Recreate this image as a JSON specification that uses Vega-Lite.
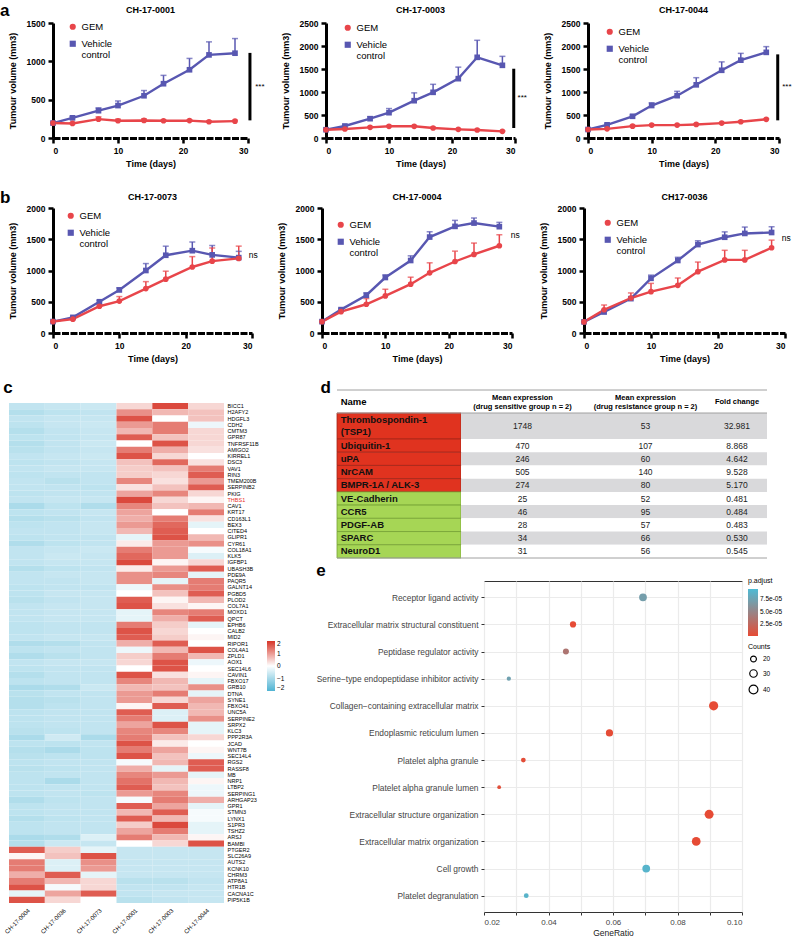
{
"$schema":"https://vega.github.io/schema/vega-lite/v6.json",
"padding":{"left":0,"top":2,"right":0,"bottom":0},
"config":{
 "font":"Liberation Sans",
 "view":{"stroke":null},
 "title":{"fontSize":9,"fontWeight":"bold","color":"black"},
 "axis":{"domainColor":"black","domainWidth":3,"tickColor":"black","tickWidth":2.5,"tickSize":5,"labelFontSize":8.5,"labelFontWeight":"bold","labelColor":"black","titleFontSize":9,"titleFontWeight":"bold","titleColor":"black","grid":false,"labelPadding":3,"titlePadding":9},
 "legend":{"labelFont":"Liberation Sans","titleFont":"Liberation Sans"}
},
"datasets":{
"growth":[
{"chart":"CH-17-0001","group":"Vehicle control","day":0,"vol":195,"hi":195},
{"chart":"CH-17-0001","group":"Vehicle control","day":3,"vol":263,"hi":278},
{"chart":"CH-17-0001","group":"Vehicle control","day":7,"vol":356,"hi":394},
{"chart":"CH-17-0001","group":"Vehicle control","day":10,"vol":423,"hi":483},
{"chart":"CH-17-0001","group":"Vehicle control","day":14,"vol":551,"hi":619},
{"chart":"CH-17-0001","group":"Vehicle control","day":17,"vol":708,"hi":817},
{"chart":"CH-17-0001","group":"Vehicle control","day":21,"vol":890,"hi":1038},
{"chart":"CH-17-0001","group":"Vehicle control","day":24,"vol":1084,"hi":1254},
{"chart":"CH-17-0001","group":"Vehicle control","day":28,"vol":1106,"hi":1297},
{"chart":"CH-17-0001","group":"GEM","day":0,"vol":195,"hi":195},
{"chart":"CH-17-0001","group":"GEM","day":3,"vol":190,"hi":200},
{"chart":"CH-17-0001","group":"GEM","day":7,"vol":246,"hi":276},
{"chart":"CH-17-0001","group":"GEM","day":10,"vol":225,"hi":245},
{"chart":"CH-17-0001","group":"GEM","day":14,"vol":229,"hi":249},
{"chart":"CH-17-0001","group":"GEM","day":17,"vol":225,"hi":235},
{"chart":"CH-17-0001","group":"GEM","day":21,"vol":227,"hi":237},
{"chart":"CH-17-0001","group":"GEM","day":24,"vol":212,"hi":222},
{"chart":"CH-17-0001","group":"GEM","day":28,"vol":220,"hi":230},
{"chart":"CH-17-0003","group":"Vehicle control","day":0,"vol":180,"hi":180},
{"chart":"CH-17-0003","group":"Vehicle control","day":3,"vol":261,"hi":276},
{"chart":"CH-17-0003","group":"Vehicle control","day":7,"vol":420,"hi":460},
{"chart":"CH-17-0003","group":"Vehicle control","day":10,"vol":550,"hi":640},
{"chart":"CH-17-0003","group":"Vehicle control","day":14,"vol":811,"hi":981},
{"chart":"CH-17-0003","group":"Vehicle control","day":17,"vol":993,"hi":1167},
{"chart":"CH-17-0003","group":"Vehicle control","day":21,"vol":1290,"hi":1540},
{"chart":"CH-17-0003","group":"Vehicle control","day":24,"vol":1754,"hi":2124},
{"chart":"CH-17-0003","group":"Vehicle control","day":28,"vol":1580,"hi":1775},
{"chart":"CH-17-0003","group":"GEM","day":0,"vol":180,"hi":180},
{"chart":"CH-17-0003","group":"GEM","day":3,"vol":196,"hi":211},
{"chart":"CH-17-0003","group":"GEM","day":7,"vol":232,"hi":247},
{"chart":"CH-17-0003","group":"GEM","day":10,"vol":254,"hi":269},
{"chart":"CH-17-0003","group":"GEM","day":14,"vol":254,"hi":269},
{"chart":"CH-17-0003","group":"GEM","day":17,"vol":217,"hi":232},
{"chart":"CH-17-0003","group":"GEM","day":21,"vol":188,"hi":198},
{"chart":"CH-17-0003","group":"GEM","day":24,"vol":174,"hi":184},
{"chart":"CH-17-0003","group":"GEM","day":28,"vol":145,"hi":155},
{"chart":"CH-17-0044","group":"Vehicle control","day":0,"vol":185,"hi":185},
{"chart":"CH-17-0044","group":"Vehicle control","day":3,"vol":287,"hi":307},
{"chart":"CH-17-0044","group":"Vehicle control","day":7,"vol":472,"hi":497},
{"chart":"CH-17-0044","group":"Vehicle control","day":10,"vol":706,"hi":766},
{"chart":"CH-17-0044","group":"Vehicle control","day":14,"vol":920,"hi":1015},
{"chart":"CH-17-0044","group":"Vehicle control","day":17,"vol":1156,"hi":1311},
{"chart":"CH-17-0044","group":"Vehicle control","day":21,"vol":1472,"hi":1655},
{"chart":"CH-17-0044","group":"Vehicle control","day":24,"vol":1692,"hi":1840},
{"chart":"CH-17-0044","group":"Vehicle control","day":28,"vol":1862,"hi":1986},
{"chart":"CH-17-0044","group":"GEM","day":0,"vol":185,"hi":185},
{"chart":"CH-17-0044","group":"GEM","day":3,"vol":199,"hi":209},
{"chart":"CH-17-0044","group":"GEM","day":7,"vol":258,"hi":273},
{"chart":"CH-17-0044","group":"GEM","day":10,"vol":280,"hi":290},
{"chart":"CH-17-0044","group":"GEM","day":14,"vol":280,"hi":290},
{"chart":"CH-17-0044","group":"GEM","day":17,"vol":295,"hi":305},
{"chart":"CH-17-0044","group":"GEM","day":21,"vol":324,"hi":334},
{"chart":"CH-17-0044","group":"GEM","day":24,"vol":353,"hi":368},
{"chart":"CH-17-0044","group":"GEM","day":28,"vol":406,"hi":421},
{"chart":"CH-17-0073","group":"Vehicle control","day":0,"vol":183,"hi":183},
{"chart":"CH-17-0073","group":"Vehicle control","day":3,"vol":250,"hi":265},
{"chart":"CH-17-0073","group":"Vehicle control","day":7,"vol":500,"hi":520},
{"chart":"CH-17-0073","group":"Vehicle control","day":10,"vol":689,"hi":722},
{"chart":"CH-17-0073","group":"Vehicle control","day":14,"vol":1000,"hi":1111},
{"chart":"CH-17-0073","group":"Vehicle control","day":17,"vol":1244,"hi":1389},
{"chart":"CH-17-0073","group":"Vehicle control","day":21,"vol":1317,"hi":1456},
{"chart":"CH-17-0073","group":"Vehicle control","day":24,"vol":1250,"hi":1400},
{"chart":"CH-17-0073","group":"Vehicle control","day":28,"vol":1206,"hi":1306},
{"chart":"CH-17-0073","group":"GEM","day":0,"vol":183,"hi":183},
{"chart":"CH-17-0073","group":"GEM","day":3,"vol":222,"hi":232},
{"chart":"CH-17-0073","group":"GEM","day":7,"vol":428,"hi":448},
{"chart":"CH-17-0073","group":"GEM","day":10,"vol":511,"hi":583},
{"chart":"CH-17-0073","group":"GEM","day":14,"vol":711,"hi":822},
{"chart":"CH-17-0073","group":"GEM","day":17,"vol":861,"hi":989},
{"chart":"CH-17-0073","group":"GEM","day":21,"vol":1056,"hi":1222},
{"chart":"CH-17-0073","group":"GEM","day":24,"vol":1150,"hi":1360},
{"chart":"CH-17-0073","group":"GEM","day":28,"vol":1194,"hi":1390},
{"chart":"CH-17-0004","group":"Vehicle control","day":0,"vol":182,"hi":182},
{"chart":"CH-17-0004","group":"Vehicle control","day":3,"vol":374,"hi":389},
{"chart":"CH-17-0004","group":"Vehicle control","day":7,"vol":604,"hi":642},
{"chart":"CH-17-0004","group":"Vehicle control","day":10,"vol":888,"hi":930},
{"chart":"CH-17-0004","group":"Vehicle control","day":14,"vol":1160,"hi":1235},
{"chart":"CH-17-0004","group":"Vehicle control","day":17,"vol":1535,"hi":1620},
{"chart":"CH-17-0004","group":"Vehicle control","day":21,"vol":1706,"hi":1802},
{"chart":"CH-17-0004","group":"Vehicle control","day":24,"vol":1759,"hi":1840},
{"chart":"CH-17-0004","group":"Vehicle control","day":28,"vol":1701,"hi":1770},
{"chart":"CH-17-0004","group":"GEM","day":0,"vol":182,"hi":182},
{"chart":"CH-17-0004","group":"GEM","day":3,"vol":342,"hi":357},
{"chart":"CH-17-0004","group":"GEM","day":7,"vol":460,"hi":551},
{"chart":"CH-17-0004","group":"GEM","day":10,"vol":594,"hi":700},
{"chart":"CH-17-0004","group":"GEM","day":14,"vol":781,"hi":893},
{"chart":"CH-17-0004","group":"GEM","day":17,"vol":963,"hi":1123},
{"chart":"CH-17-0004","group":"GEM","day":21,"vol":1144,"hi":1310},
{"chart":"CH-17-0004","group":"GEM","day":24,"vol":1257,"hi":1439},
{"chart":"CH-17-0004","group":"GEM","day":28,"vol":1396,"hi":1572},
{"chart":"CH17-0036","group":"Vehicle control","day":0,"vol":178,"hi":178},
{"chart":"CH17-0036","group":"Vehicle control","day":3,"vol":336,"hi":351},
{"chart":"CH17-0036","group":"Vehicle control","day":7,"vol":550,"hi":570},
{"chart":"CH17-0036","group":"Vehicle control","day":10,"vol":875,"hi":926},
{"chart":"CH17-0036","group":"Vehicle control","day":14,"vol":1160,"hi":1211},
{"chart":"CH17-0036","group":"Vehicle control","day":17,"vol":1415,"hi":1476},
{"chart":"CH17-0036","group":"Vehicle control","day":21,"vol":1532,"hi":1618},
{"chart":"CH17-0036","group":"Vehicle control","day":24,"vol":1593,"hi":1695},
{"chart":"CH17-0036","group":"Vehicle control","day":28,"vol":1608,"hi":1700},
{"chart":"CH17-0036","group":"GEM","day":0,"vol":178,"hi":178},
{"chart":"CH17-0036","group":"GEM","day":3,"vol":372,"hi":448},
{"chart":"CH17-0036","group":"GEM","day":7,"vol":560,"hi":641},
{"chart":"CH17-0036","group":"GEM","day":10,"vol":662,"hi":794},
{"chart":"CH17-0036","group":"GEM","day":14,"vol":763,"hi":880},
{"chart":"CH17-0036","group":"GEM","day":17,"vol":982,"hi":1135},
{"chart":"CH17-0036","group":"GEM","day":21,"vol":1170,"hi":1323},
{"chart":"CH17-0036","group":"GEM","day":24,"vol":1170,"hi":1323},
{"chart":"CH17-0036","group":"GEM","day":28,"vol":1364,"hi":1486}
],
"annot":[
{"chart":"CH-17-0001","lo":230,"hi":1110,"label":"***"},
{"chart":"CH-17-0003","lo":217,"hi":1506,"label":"***"},
{"chart":"CH-17-0044","lo":384,"hi":1818,"label":"***"},
{"chart":"CH-17-0073","lo":1200,"hi":1300,"label":"ns"},
{"chart":"CH-17-0004","lo":1440,"hi":1700,"label":"ns"},
{"chart":"CH17-0036","lo":1364,"hi":1690,"label":"ns"}
],
"heat":[
{"gene":"BICC1","c0004":-0.7,"c0036":-0.65,"c0073":-0.6,"c0001":0.4,"c0003":1.8,"c0044":0.4},
{"gene":"H2AFY2","c0004":-0.85,"c0036":-0.75,"c0073":-0.7,"c0001":1.1,"c0003":0.7,"c0044":0.6},
{"gene":"HDGFL3","c0004":-0.7,"c0036":-0.65,"c0073":-0.65,"c0001":1.7,"c0003":0.0,"c0044":0.6},
{"gene":"CDH2","c0004":-0.75,"c0036":-0.65,"c0073":-0.6,"c0001":1.0,"c0003":1.3,"c0044":-0.2},
{"gene":"CMTM3","c0004":-0.85,"c0036":-0.7,"c0073":-0.65,"c0001":0.7,"c0003":1.3,"c0044":0.4},
{"gene":"GPR87","c0004":-0.75,"c0036":-0.7,"c0073":-0.65,"c0001":1.6,"c0003":0.6,"c0044":0.4},
{"gene":"TNFRSF11B","c0004":-0.85,"c0036":-0.7,"c0073":-0.6,"c0001":0.0,"c0003":1.7,"c0044":0.4},
{"gene":"AMIGO2","c0004":-0.8,"c0036":-0.7,"c0073":-0.65,"c0001":1.3,"c0003":0.8,"c0044":0.3},
{"gene":"KIRREL1","c0004":-0.7,"c0036":-0.65,"c0073":-0.6,"c0001":1.7,"c0003":0.4,"c0044":0.0},
{"gene":"DSC3","c0004":-0.75,"c0036":-0.7,"c0073":-0.65,"c0001":0.6,"c0003":1.5,"c0044":0.3},
{"gene":"VAV1","c0004":-0.7,"c0036":-0.65,"c0073":-0.65,"c0001":0.5,"c0003":0.6,"c0044":1.3},
{"gene":"RIN3","c0004":-0.75,"c0036":-0.7,"c0073":-0.7,"c0001":0.5,"c0003":0.4,"c0044":1.6},
{"gene":"TMEM200B","c0004":-0.7,"c0036":-0.8,"c0073":-0.7,"c0001":1.2,"c0003":0.3,"c0044":1.0},
{"gene":"SERPINB2","c0004":-0.7,"c0036":-0.7,"c0073":-0.75,"c0001":0.3,"c0003":0.6,"c0044":1.6},
{"gene":"PKIG","c0004":-0.75,"c0036":-0.7,"c0073":-0.7,"c0001":0.9,"c0003":1.2,"c0044":0.4},
{"gene":"THBS1","c0004":-0.7,"c0036":-0.65,"c0073":-0.65,"c0001":1.8,"c0003":0.4,"c0044":0.1},
{"gene":"CAV1","c0004":-0.95,"c0036":-0.75,"c0073":-0.9,"c0001":1.2,"c0003":0.6,"c0044":0.7},
{"gene":"KRT17","c0004":-0.75,"c0036":-0.7,"c0073":-0.65,"c0001":0.9,"c0003":0.0,"c0044":1.3},
{"gene":"CD163L1","c0004":-0.85,"c0036":-0.8,"c0073":-0.7,"c0001":0.8,"c0003":1.3,"c0044":0.3},
{"gene":"BEX3","c0004":-0.75,"c0036":-0.7,"c0073":-0.65,"c0001":1.0,"c0003":1.5,"c0044":-0.3},
{"gene":"CITED4","c0004":-0.7,"c0036":-0.7,"c0073":-0.65,"c0001":0.7,"c0003":1.6,"c0044":0.0},
{"gene":"GLIPR1","c0004":-0.75,"c0036":-0.7,"c0073":-0.7,"c0001":-0.3,"c0003":1.7,"c0044":0.7},
{"gene":"CYR61","c0004":-0.9,"c0036":-0.75,"c0073":-0.7,"c0001":0.2,"c0003":1.0,"c0044":1.1},
{"gene":"COL18A1","c0004":-0.7,"c0036":-0.65,"c0073":-0.6,"c0001":1.3,"c0003":1.0,"c0044":-0.1},
{"gene":"KLK5","c0004":-0.7,"c0036":-0.6,"c0073":-0.65,"c0001":1.5,"c0003":1.0,"c0044":-0.4},
{"gene":"IGFBP1","c0004":-0.7,"c0036":-0.65,"c0073":-0.65,"c0001":1.8,"c0003":0.1,"c0044":0.4},
{"gene":"UBASH3B","c0004":-0.85,"c0036":-0.75,"c0073":-0.7,"c0001":0.2,"c0003":1.0,"c0044":1.6},
{"gene":"PDE9A","c0004":-0.7,"c0036":-0.65,"c0073":-0.65,"c0001":1.1,"c0003":1.2,"c0044":-0.3},
{"gene":"PAQR5","c0004":-0.7,"c0036":-0.7,"c0073":-0.65,"c0001":1.1,"c0003":-0.3,"c0044":1.3},
{"gene":"GALNT14","c0004":-0.75,"c0036":-0.7,"c0073":-0.7,"c0001":-0.2,"c0003":1.1,"c0044":1.3},
{"gene":"PGBD5","c0004":-0.75,"c0036":-0.65,"c0073":-0.65,"c0001":0.0,"c0003":0.6,"c0044":1.6},
{"gene":"PLOD2","c0004":-0.8,"c0036":-0.7,"c0073":-0.65,"c0001":1.6,"c0003":0.1,"c0044":0.7},
{"gene":"COL7A1","c0004":-0.7,"c0036":-0.65,"c0073":-0.65,"c0001":1.7,"c0003":0.3,"c0044":0.1},
{"gene":"MOXD1","c0004":-0.7,"c0036":-0.65,"c0073":-0.65,"c0001":-0.3,"c0003":1.2,"c0044":1.3},
{"gene":"QPCT","c0004":-0.7,"c0036":-0.65,"c0073":-0.65,"c0001":-0.3,"c0003":0.8,"c0044":1.6},
{"gene":"EPHB6","c0004":-0.75,"c0036":-0.7,"c0073":-0.7,"c0001":1.3,"c0003":0.5,"c0044":-0.3},
{"gene":"CALB2","c0004":-0.75,"c0036":-0.7,"c0073":-0.7,"c0001":1.7,"c0003":0.4,"c0044":0.0},
{"gene":"MID2","c0004":-0.7,"c0036":-0.65,"c0073":-0.65,"c0001":1.6,"c0003":0.5,"c0044":0.1},
{"gene":"RIPOR1","c0004":-0.9,"c0036":-0.85,"c0073":-0.7,"c0001":0.8,"c0003":1.6,"c0044":0.0},
{"gene":"COL4A1","c0004":-0.75,"c0036":-0.7,"c0073":-0.7,"c0001":-0.2,"c0003":0.7,"c0044":1.7},
{"gene":"ZPLD1","c0004":-0.9,"c0036":-0.8,"c0073":-0.7,"c0001":0.5,"c0003":1.3,"c0044":0.7},
{"gene":"AOX1","c0004":-0.7,"c0036":-0.65,"c0073":-0.65,"c0001":0.4,"c0003":1.7,"c0044":-0.2},
{"gene":"SEC14L6","c0004":-0.75,"c0036":-0.7,"c0073":-0.7,"c0001":0.0,"c0003":1.7,"c0044":0.0},
{"gene":"CAVIN1","c0004":-0.85,"c0036":-0.7,"c0073":-0.7,"c0001":1.7,"c0003":0.3,"c0044":0.1},
{"gene":"FBXO17","c0004":-0.75,"c0036":-0.7,"c0073":-0.7,"c0001":1.2,"c0003":0.7,"c0044":-0.3},
{"gene":"GRB10","c0004":-0.95,"c0036":-0.9,"c0073":-0.6,"c0001":0.7,"c0003":0.6,"c0044":1.1},
{"gene":"DTNA","c0004":-0.8,"c0036":-0.7,"c0073":-0.7,"c0001":1.0,"c0003":1.3,"c0044":-0.3},
{"gene":"SYNE1","c0004":-0.85,"c0036":-0.8,"c0073":-0.7,"c0001":1.0,"c0003":0.4,"c0044":0.9},
{"gene":"FBXO41","c0004":-0.85,"c0036":-0.75,"c0073":-0.7,"c0001":0.1,"c0003":1.6,"c0044":0.7},
{"gene":"UNC5A","c0004":-0.75,"c0036":-0.7,"c0073":-0.7,"c0001":1.6,"c0003":-0.4,"c0044":0.7},
{"gene":"SERPINE2","c0004":-0.75,"c0036":-0.7,"c0073":-0.7,"c0001":1.3,"c0003":-0.4,"c0044":1.1},
{"gene":"SRPX2","c0004":-0.75,"c0036":-0.7,"c0073":-0.7,"c0001":0.9,"c0003":1.7,"c0044":-0.3},
{"gene":"KLC3","c0004":-0.8,"c0036":-0.75,"c0073":-0.7,"c0001":1.2,"c0003":1.2,"c0044":-0.3},
{"gene":"PPP2R3A","c0004":-0.95,"c0036":-0.55,"c0073":-0.95,"c0001":1.3,"c0003":0.6,"c0044":0.4},
{"gene":"JCAD","c0004":-0.75,"c0036":-0.75,"c0073":-0.7,"c0001":1.7,"c0003":0.2,"c0044":0.0},
{"gene":"WNT7B","c0004":-0.85,"c0036":-0.95,"c0073":-0.75,"c0001":1.3,"c0003":0.9,"c0044":0.1},
{"gene":"SEC14L4","c0004":-0.8,"c0036":-0.75,"c0073":-0.75,"c0001":1.7,"c0003":0.6,"c0044":-0.2},
{"gene":"RGS2","c0004":-0.75,"c0036":-0.7,"c0073":-0.7,"c0001":-0.1,"c0003":0.7,"c0044":1.6},
{"gene":"RASSF8","c0004":-0.8,"c0036":-0.75,"c0073":-0.7,"c0001":0.8,"c0003":-0.3,"c0044":1.6},
{"gene":"MB","c0004":-0.75,"c0036":-0.7,"c0073":-0.7,"c0001":1.2,"c0003":1.0,"c0044":-0.3},
{"gene":"NRP1","c0004":-0.75,"c0036":-0.95,"c0073":-0.7,"c0001":1.4,"c0003":0.7,"c0044":0.1},
{"gene":"LTBP2","c0004":-0.75,"c0036":-0.7,"c0073":-0.7,"c0001":1.6,"c0003":0.6,"c0044":-0.2},
{"gene":"SERPING1","c0004":-0.75,"c0036":-0.7,"c0073":-0.75,"c0001":1.0,"c0003":1.2,"c0044":-0.2},
{"gene":"ARHGAP23","c0004":-0.9,"c0036":-0.75,"c0073":-0.7,"c0001":-0.1,"c0003":1.3,"c0044":0.8},
{"gene":"GPR1","c0004":-0.75,"c0036":-0.7,"c0073":-0.7,"c0001":1.6,"c0003":0.9,"c0044":-0.3},
{"gene":"STMN3","c0004":-0.75,"c0036":-0.7,"c0073":-0.7,"c0001":0.7,"c0003":1.6,"c0044":-0.1},
{"gene":"LYNX1","c0004":-0.85,"c0036":-0.75,"c0073":-0.7,"c0001":1.6,"c0003":0.7,"c0044":-0.1},
{"gene":"S1PR3","c0004":-0.75,"c0036":-0.7,"c0073":-0.7,"c0001":0.5,"c0003":1.8,"c0044":-0.3},
{"gene":"TSHZ2","c0004":-0.75,"c0036":-0.7,"c0073":-0.7,"c0001":0.9,"c0003":1.3,"c0044":-0.3},
{"gene":"ARSJ","c0004":-0.95,"c0036":-0.9,"c0073":-0.4,"c0001":1.3,"c0003":0.7,"c0044":0.1},
{"gene":"BAMBI","c0004":-0.85,"c0036":-0.6,"c0073":-0.65,"c0001":0.0,"c0003":0.4,"c0044":1.7},
{"gene":"PTGER2","c0004":1.6,"c0036":0.5,"c0073":-0.3,"c0001":-0.65,"c0003":-0.65,"c0044":-0.65},
{"gene":"SLC26A9","c0004":0.1,"c0036":0.6,"c0073":1.7,"c0001":-0.65,"c0003":-0.65,"c0044":-0.65},
{"gene":"AUTS2","c0004":1.3,"c0036":-0.4,"c0073":1.1,"c0001":-0.65,"c0003":-0.65,"c0044":-0.65},
{"gene":"KCNK10","c0004":1.3,"c0036":-0.4,"c0073":1.0,"c0001":-0.65,"c0003":-0.65,"c0044":-0.65},
{"gene":"CHRM3","c0004":0.8,"c0036":1.6,"c0073":-0.3,"c0001":-0.65,"c0003":-0.65,"c0044":-0.65},
{"gene":"ATP8A1","c0004":1.3,"c0036":0.7,"c0073":0.4,"c0001":-0.8,"c0003":-0.8,"c0044":-0.7},
{"gene":"HTR1B","c0004":1.7,"c0036":-0.1,"c0073":0.4,"c0001":-0.7,"c0003":-0.7,"c0044":-0.65},
{"gene":"CACNA1C","c0004":-0.3,"c0036":0.9,"c0073":1.6,"c0001":-0.7,"c0003":-0.65,"c0044":-0.65},
{"gene":"PIP5K1B","c0004":1.7,"c0036":0.4,"c0073":0.0,"c0001":-0.8,"c0003":-0.7,"c0044":-0.65}
],
"tbl":[
{"i":0,"name":"Thrombospondin-1\n(TSP1)","group":"high","sens":1748,"res":53,"fold":32.981},
{"i":1,"name":"Ubiquitin-1","group":"high","sens":470,"res":107,"fold":8.868},
{"i":2,"name":"uPA","group":"high","sens":246,"res":60,"fold":4.642},
{"i":3,"name":"NrCAM","group":"high","sens":505,"res":140,"fold":9.528},
{"i":4,"name":"BMPR-1A / ALK-3","group":"high","sens":274,"res":80,"fold":5.170},
{"i":5,"name":"VE-Cadherin","group":"low","sens":25,"res":52,"fold":0.481},
{"i":6,"name":"CCR5","group":"low","sens":46,"res":95,"fold":0.484},
{"i":7,"name":"PDGF-AB","group":"low","sens":28,"res":57,"fold":0.483},
{"i":8,"name":"SPARC","group":"low","sens":34,"res":66,"fold":0.530},
{"i":9,"name":"NeuroD1","group":"low","sens":31,"res":56,"fold":0.545}
],
"go":[
{"term":"Receptor ligand activity","ratio":0.0693,"padj":7.1e-5,"count":32},
{"term":"Extracellular matrix structural constituent","ratio":0.0476,"padj":3e-7,"count":22},
{"term":"Peptidase regulator activity","ratio":0.0454,"padj":3.6e-5,"count":21},
{"term":"Serine−type endopeptidase inhibitor activity","ratio":0.0277,"padj":7.4e-5,"count":13},
{"term":"Collagen−containing extracellular matrix","ratio":0.0912,"padj":1e-9,"count":43},
{"term":"Endoplasmic reticulum lumen","ratio":0.0589,"padj":8e-7,"count":28},
{"term":"Platelet alpha granule","ratio":0.0322,"padj":2e-6,"count":15},
{"term":"Platelet alpha granule lumen","ratio":0.0247,"padj":3e-6,"count":11},
{"term":"Extracellular structure organization","ratio":0.0898,"padj":1e-9,"count":41},
{"term":"Extracellular matrix organization","ratio":0.0858,"padj":1e-9,"count":39},
{"term":"Cell growth","ratio":0.0703,"padj":9.0e-5,"count":32},
{"term":"Platelet degranulation","ratio":0.0331,"padj":8.9e-5,"count":15}
]
},
"resolve":{"scale":{"color":"independent","fill":"independent","shape":"independent","size":"independent"}},
"concat":[
{"resolve":{"scale":{"color":"independent","fill":"independent","shape":"independent","size":"independent"}},
 "concat":[
 {"title":{"text":"a","anchor":"start","frame":"bounds","fontSize":17,"offset":-14,"dx":-8},
  "resolve":{"scale":{"color":"independent","fill":"independent","shape":"independent","size":"independent"}},
  "columns":3,"spacing":16,
  "concat":[
  {"width":195,"height":115,"title":{"text":"CH-17-0001","offset":4},
   "layer":[
    {"encoding":{"x":{"field":"day","type":"quantitative","scale":{"domain":[0,30],"nice":false},"axis":{"values":[0,10,20,30],"title":"Time (days)","domainDash":[7,1.5],"titlePadding":5}},
       "y":{"field":"vol","type":"quantitative","scale":{"domain":[0,1500],"nice":false},"axis":{"values":[0,500,1000,1500],"format":"d","title":"Tumour volume (mm3)"}}},
     "layer":[
      {"data":{"name":"growth"},"transform":[{"filter":"datum.chart=='CH-17-0001'"}],"mark":{"type":"rule","strokeWidth":1.5},"encoding":{"y2":{"field":"hi"},"color":{"condition":{"test":"datum.group=='GEM'","value":"#e8454a"},"value":"#5857b1"}}},
      {"data":{"name":"growth"},"transform":[{"filter":"datum.chart=='CH-17-0001'"}],"mark":{"type":"tick","orient":"horizontal","size":6,"thickness":1.5},"encoding":{"y":{"field":"hi","type":"quantitative"},"color":{"condition":{"test":"datum.group=='GEM'","value":"#e8454a"},"value":"#5857b1"}}},
      {"data":{"name":"growth"},"transform":[{"filter":"datum.chart=='CH-17-0001'"}],"mark":{"type":"line","strokeWidth":2.4},"encoding":{"detail":{"field":"group"},"color":{"condition":{"test":"datum.group=='GEM'","value":"#e8454a"},"value":"#5857b1"}}},
      {"data":{"name":"growth"},"transform":[{"filter":"datum.chart=='CH-17-0001'"}],"mark":{"type":"point","filled":true,"size":32,"opacity":1},"encoding":{"fill":{"field":"group","type":"nominal","scale":{"domain":["GEM","Vehicle control"],"range":["#e8454a","#5857b1"]},"legend":{"orient":"none","legendX":15,"legendY":-1,"title":null,"labelFontSize":9.5,"symbolSize":38,"symbolStrokeWidth":0,"rowPadding":6,"labelExpr":"datum.label=='Vehicle control' ? ['Vehicle','control'] : datum.label"}},"shape":{"field":"group","type":"nominal","scale":{"domain":["GEM","Vehicle control"],"range":["circle","square"]},"legend":{"orient":"none","legendX":15,"legendY":-1,"title":null,"labelFontSize":9.5,"symbolSize":38,"symbolStrokeWidth":0,"rowPadding":6,"labelExpr":"datum.label=='Vehicle control' ? ['Vehicle','control'] : datum.label"}}}}
     ]},
    {"data":{"name":"annot"},"transform":[{"filter":"datum.chart=='CH-17-0001'"}],"mark":{"type":"rule","strokeWidth":3,"color":"black"},"encoding":{"x":{"datum":30.3,"type":"quantitative","axis":{"values":[0,10,20,30],"title":"Time (days)","domainDash":[7,1.5],"titlePadding":5}},"y":{"field":"lo","type":"quantitative","axis":{"values":[0,500,1000,1500],"format":"d","title":"Tumour volume (mm3)"}},"y2":{"field":"hi"}}},
    {"data":{"name":"annot"},"transform":[{"filter":"datum.chart=='CH-17-0001'"},{"calculate":"(datum.lo+datum.hi)/2","as":"mid"}],"mark":{"type":"text","align":"left","baseline":"middle","fontSize":8,"color":"black"},"encoding":{"x":{"datum":31.1,"type":"quantitative","axis":{"values":[0,10,20,30],"title":"Time (days)","domainDash":[7,1.5],"titlePadding":5}},"y":{"field":"mid","type":"quantitative","axis":{"values":[0,500,1000,1500],"format":"d","title":"Tumour volume (mm3)"}},"text":{"field":"label"}}}
   ]},
  {"width":189,"height":115,"title":{"text":"CH-17-0003","offset":4},
   "layer":[
    {"encoding":{"x":{"field":"day","type":"quantitative","scale":{"domain":[0,30],"nice":false},"axis":{"values":[0,10,20,30],"title":"Time (days)","domainDash":[7,1.5],"titlePadding":5}},
       "y":{"field":"vol","type":"quantitative","scale":{"domain":[0,2500],"nice":false},"axis":{"values":[0,500,1000,1500,2000,2500],"format":"d","title":"Tumour volume (mm3)"}}},
     "layer":[
      {"data":{"name":"growth"},"transform":[{"filter":"datum.chart=='CH-17-0003'"}],"mark":{"type":"rule","strokeWidth":1.5},"encoding":{"y2":{"field":"hi"},"color":{"condition":{"test":"datum.group=='GEM'","value":"#e8454a"},"value":"#5857b1"}}},
      {"data":{"name":"growth"},"transform":[{"filter":"datum.chart=='CH-17-0003'"}],"mark":{"type":"tick","orient":"horizontal","size":6,"thickness":1.5},"encoding":{"y":{"field":"hi","type":"quantitative"},"color":{"condition":{"test":"datum.group=='GEM'","value":"#e8454a"},"value":"#5857b1"}}},
      {"data":{"name":"growth"},"transform":[{"filter":"datum.chart=='CH-17-0003'"}],"mark":{"type":"line","strokeWidth":2.4},"encoding":{"detail":{"field":"group"},"color":{"condition":{"test":"datum.group=='GEM'","value":"#e8454a"},"value":"#5857b1"}}},
      {"data":{"name":"growth"},"transform":[{"filter":"datum.chart=='CH-17-0003'"}],"mark":{"type":"point","filled":true,"size":32,"opacity":1},"encoding":{"fill":{"field":"group","type":"nominal","scale":{"domain":["GEM","Vehicle control"],"range":["#e8454a","#5857b1"]},"legend":{"orient":"none","legendX":17,"legendY":0,"title":null,"labelFontSize":9.5,"symbolSize":38,"symbolStrokeWidth":0,"rowPadding":6,"labelExpr":"datum.label=='Vehicle control' ? ['Vehicle','control'] : datum.label"}},"shape":{"field":"group","type":"nominal","scale":{"domain":["GEM","Vehicle control"],"range":["circle","square"]},"legend":{"orient":"none","legendX":17,"legendY":0,"title":null,"labelFontSize":9.5,"symbolSize":38,"symbolStrokeWidth":0,"rowPadding":6,"labelExpr":"datum.label=='Vehicle control' ? ['Vehicle','control'] : datum.label"}}}}
     ]},
    {"data":{"name":"annot"},"transform":[{"filter":"datum.chart=='CH-17-0003'"}],"mark":{"type":"rule","strokeWidth":3,"color":"black"},"encoding":{"x":{"datum":29.8,"type":"quantitative","axis":{"values":[0,10,20,30],"title":"Time (days)","domainDash":[7,1.5],"titlePadding":5}},"y":{"field":"lo","type":"quantitative","axis":{"values":[0,500,1000,1500,2000,2500],"format":"d","title":"Tumour volume (mm3)"}},"y2":{"field":"hi"}}},
    {"data":{"name":"annot"},"transform":[{"filter":"datum.chart=='CH-17-0003'"},{"calculate":"(datum.lo+datum.hi)/2","as":"mid"}],"mark":{"type":"text","align":"left","baseline":"middle","fontSize":8,"color":"black"},"encoding":{"x":{"datum":30.4,"type":"quantitative","axis":{"values":[0,10,20,30],"title":"Time (days)","domainDash":[7,1.5],"titlePadding":5}},"y":{"field":"mid","type":"quantitative","axis":{"values":[0,500,1000,1500,2000,2500],"format":"d","title":"Tumour volume (mm3)"}},"text":{"field":"label"}}}
   ]},
  {"width":191,"height":115,"title":{"text":"CH-17-0044","offset":4},
   "layer":[
    {"encoding":{"x":{"field":"day","type":"quantitative","scale":{"domain":[0,30],"nice":false},"axis":{"values":[0,10,20,30],"title":"Time (days)","domainDash":[7,1.5],"titlePadding":5}},
       "y":{"field":"vol","type":"quantitative","scale":{"domain":[0,2500],"nice":false},"axis":{"values":[0,500,1000,1500,2000,2500],"format":"d","title":"Tumour volume (mm3)"}}},
     "layer":[
      {"data":{"name":"growth"},"transform":[{"filter":"datum.chart=='CH-17-0044'"}],"mark":{"type":"rule","strokeWidth":1.5},"encoding":{"y2":{"field":"hi"},"color":{"condition":{"test":"datum.group=='GEM'","value":"#e8454a"},"value":"#5857b1"}}},
      {"data":{"name":"growth"},"transform":[{"filter":"datum.chart=='CH-17-0044'"}],"mark":{"type":"tick","orient":"horizontal","size":6,"thickness":1.5},"encoding":{"y":{"field":"hi","type":"quantitative"},"color":{"condition":{"test":"datum.group=='GEM'","value":"#e8454a"},"value":"#5857b1"}}},
      {"data":{"name":"growth"},"transform":[{"filter":"datum.chart=='CH-17-0044'"}],"mark":{"type":"line","strokeWidth":2.4},"encoding":{"detail":{"field":"group"},"color":{"condition":{"test":"datum.group=='GEM'","value":"#e8454a"},"value":"#5857b1"}}},
      {"data":{"name":"growth"},"transform":[{"filter":"datum.chart=='CH-17-0044'"}],"mark":{"type":"point","filled":true,"size":32,"opacity":1},"encoding":{"fill":{"field":"group","type":"nominal","scale":{"domain":["GEM","Vehicle control"],"range":["#e8454a","#5857b1"]},"legend":{"orient":"none","legendX":17,"legendY":4,"title":null,"labelFontSize":9.5,"symbolSize":38,"symbolStrokeWidth":0,"rowPadding":6,"labelExpr":"datum.label=='Vehicle control' ? ['Vehicle','control'] : datum.label"}},"shape":{"field":"group","type":"nominal","scale":{"domain":["GEM","Vehicle control"],"range":["circle","square"]},"legend":{"orient":"none","legendX":17,"legendY":4,"title":null,"labelFontSize":9.5,"symbolSize":38,"symbolStrokeWidth":0,"rowPadding":6,"labelExpr":"datum.label=='Vehicle control' ? ['Vehicle','control'] : datum.label"}}}}
     ]},
    {"data":{"name":"annot"},"transform":[{"filter":"datum.chart=='CH-17-0044'"}],"mark":{"type":"rule","strokeWidth":3,"color":"black"},"encoding":{"x":{"datum":29.8,"type":"quantitative","axis":{"values":[0,10,20,30],"title":"Time (days)","domainDash":[7,1.5],"titlePadding":5}},"y":{"field":"lo","type":"quantitative","axis":{"values":[0,500,1000,1500,2000,2500],"format":"d","title":"Tumour volume (mm3)"}},"y2":{"field":"hi"}}},
    {"data":{"name":"annot"},"transform":[{"filter":"datum.chart=='CH-17-0044'"},{"calculate":"(datum.lo+datum.hi)/2","as":"mid"}],"mark":{"type":"text","align":"left","baseline":"middle","fontSize":8,"color":"black"},"encoding":{"x":{"datum":30.5,"type":"quantitative","axis":{"values":[0,10,20,30],"title":"Time (days)","domainDash":[7,1.5],"titlePadding":5}},"y":{"field":"mid","type":"quantitative","axis":{"values":[0,500,1000,1500,2000,2500],"format":"d","title":"Tumour volume (mm3)"}},"text":{"field":"label"}}}
   ]}
 ]},
 {"title":{"text":"b","anchor":"start","frame":"bounds","fontSize":17,"offset":-14,"dx":-8},
  "resolve":{"scale":{"color":"independent","fill":"independent","shape":"independent","size":"independent"}},
  "columns":3,"spacing":19,
  "concat":[
  {"width":199,"height":125,"title":{"text":"CH-17-0073","offset":2},
   "layer":[
    {"encoding":{"x":{"field":"day","type":"quantitative","scale":{"domain":[0,30],"nice":false},"axis":{"values":[0,10,20,30],"title":"Time (days)","domainDash":[7,1.5],"titlePadding":5}},
       "y":{"field":"vol","type":"quantitative","scale":{"domain":[0,2000],"nice":false},"axis":{"values":[0,500,1000,1500,2000],"format":"d","title":"Tumour volume (mm3)"}}},
     "layer":[
      {"data":{"name":"growth"},"transform":[{"filter":"datum.chart=='CH-17-0073'"}],"mark":{"type":"rule","strokeWidth":1.5},"encoding":{"y2":{"field":"hi"},"color":{"condition":{"test":"datum.group=='GEM'","value":"#e8454a"},"value":"#5857b1"}}},
      {"data":{"name":"growth"},"transform":[{"filter":"datum.chart=='CH-17-0073'"}],"mark":{"type":"tick","orient":"horizontal","size":6,"thickness":1.5},"encoding":{"y":{"field":"hi","type":"quantitative"},"color":{"condition":{"test":"datum.group=='GEM'","value":"#e8454a"},"value":"#5857b1"}}},
      {"data":{"name":"growth"},"transform":[{"filter":"datum.chart=='CH-17-0073'"}],"mark":{"type":"line","strokeWidth":2.4},"encoding":{"detail":{"field":"group"},"color":{"condition":{"test":"datum.group=='GEM'","value":"#e8454a"},"value":"#5857b1"}}},
      {"data":{"name":"growth"},"transform":[{"filter":"datum.chart=='CH-17-0073'"}],"mark":{"type":"point","filled":true,"size":32,"opacity":1},"encoding":{"fill":{"field":"group","type":"nominal","scale":{"domain":["GEM","Vehicle control"],"range":["#e8454a","#5857b1"]},"legend":{"orient":"none","legendX":13,"legendY":3,"title":null,"labelFontSize":9.5,"symbolSize":38,"symbolStrokeWidth":0,"rowPadding":6,"labelExpr":"datum.label=='Vehicle control' ? ['Vehicle','control'] : datum.label"}},"shape":{"field":"group","type":"nominal","scale":{"domain":["GEM","Vehicle control"],"range":["circle","square"]},"legend":{"orient":"none","legendX":13,"legendY":3,"title":null,"labelFontSize":9.5,"symbolSize":38,"symbolStrokeWidth":0,"rowPadding":6,"labelExpr":"datum.label=='Vehicle control' ? ['Vehicle','control'] : datum.label"}}}}
     ]},
    {"data":{"name":"annot"},"transform":[{"filter":"datum.chart=='CH-17-0073'"},{"calculate":"(datum.lo+datum.hi)/2","as":"mid"}],"mark":{"type":"text","align":"left","baseline":"middle","fontSize":8.5,"color":"black"},"encoding":{"x":{"datum":29.5,"type":"quantitative","axis":{"values":[0,10,20,30],"title":"Time (days)","domainDash":[7,1.5],"titlePadding":5}},"y":{"field":"mid","type":"quantitative","axis":{"values":[0,500,1000,1500,2000],"format":"d","title":"Tumour volume (mm3)"}},"text":{"field":"label"}}}
   ]},
  {"width":190,"height":125,"title":{"text":"CH-17-0004","offset":2},
   "layer":[
    {"encoding":{"x":{"field":"day","type":"quantitative","scale":{"domain":[0,30],"nice":false},"axis":{"values":[0,10,20,30],"title":"Time (days)","domainDash":[7,1.5],"titlePadding":5}},
       "y":{"field":"vol","type":"quantitative","scale":{"domain":[0,2000],"nice":false},"axis":{"values":[0,500,1000,1500,2000],"format":"d","title":"Tumour volume (mm3)"}}},
     "layer":[
      {"data":{"name":"growth"},"transform":[{"filter":"datum.chart=='CH-17-0004'"}],"mark":{"type":"rule","strokeWidth":1.5},"encoding":{"y2":{"field":"hi"},"color":{"condition":{"test":"datum.group=='GEM'","value":"#e8454a"},"value":"#5857b1"}}},
      {"data":{"name":"growth"},"transform":[{"filter":"datum.chart=='CH-17-0004'"}],"mark":{"type":"tick","orient":"horizontal","size":6,"thickness":1.5},"encoding":{"y":{"field":"hi","type":"quantitative"},"color":{"condition":{"test":"datum.group=='GEM'","value":"#e8454a"},"value":"#5857b1"}}},
      {"data":{"name":"growth"},"transform":[{"filter":"datum.chart=='CH-17-0004'"}],"mark":{"type":"line","strokeWidth":2.4},"encoding":{"detail":{"field":"group"},"color":{"condition":{"test":"datum.group=='GEM'","value":"#e8454a"},"value":"#5857b1"}}},
      {"data":{"name":"growth"},"transform":[{"filter":"datum.chart=='CH-17-0004'"}],"mark":{"type":"point","filled":true,"size":32,"opacity":1},"encoding":{"fill":{"field":"group","type":"nominal","scale":{"domain":["GEM","Vehicle control"],"range":["#e8454a","#5857b1"]},"legend":{"orient":"none","legendX":14,"legendY":12,"title":null,"labelFontSize":9.5,"symbolSize":38,"symbolStrokeWidth":0,"rowPadding":6,"labelExpr":"datum.label=='Vehicle control' ? ['Vehicle','control'] : datum.label"}},"shape":{"field":"group","type":"nominal","scale":{"domain":["GEM","Vehicle control"],"range":["circle","square"]},"legend":{"orient":"none","legendX":14,"legendY":12,"title":null,"labelFontSize":9.5,"symbolSize":38,"symbolStrokeWidth":0,"rowPadding":6,"labelExpr":"datum.label=='Vehicle control' ? ['Vehicle','control'] : datum.label"}}}}
     ]},
    {"data":{"name":"annot"},"transform":[{"filter":"datum.chart=='CH-17-0004'"},{"calculate":"(datum.lo+datum.hi)/2","as":"mid"}],"mark":{"type":"text","align":"left","baseline":"middle","fontSize":8.5,"color":"black"},"encoding":{"x":{"datum":29.8,"type":"quantitative","axis":{"values":[0,10,20,30],"title":"Time (days)","domainDash":[7,1.5],"titlePadding":5}},"y":{"field":"mid","type":"quantitative","axis":{"values":[0,500,1000,1500,2000],"format":"d","title":"Tumour volume (mm3)"}},"text":{"field":"label"}}}
   ]},
  {"width":201,"height":125,"title":{"text":"CH17-0036","offset":2},
   "layer":[
    {"encoding":{"x":{"field":"day","type":"quantitative","scale":{"domain":[0,30],"nice":false},"axis":{"values":[0,10,20,30],"title":"Time (days)","domainDash":[7,1.5],"titlePadding":5}},
       "y":{"field":"vol","type":"quantitative","scale":{"domain":[0,2000],"nice":false},"axis":{"values":[0,500,1000,1500,2000],"format":"d","title":"Tumour volume (mm3)"}}},
     "layer":[
      {"data":{"name":"growth"},"transform":[{"filter":"datum.chart=='CH17-0036'"}],"mark":{"type":"rule","strokeWidth":1.5},"encoding":{"y2":{"field":"hi"},"color":{"condition":{"test":"datum.group=='GEM'","value":"#e8454a"},"value":"#5857b1"}}},
      {"data":{"name":"growth"},"transform":[{"filter":"datum.chart=='CH17-0036'"}],"mark":{"type":"tick","orient":"horizontal","size":6,"thickness":1.5},"encoding":{"y":{"field":"hi","type":"quantitative"},"color":{"condition":{"test":"datum.group=='GEM'","value":"#e8454a"},"value":"#5857b1"}}},
      {"data":{"name":"growth"},"transform":[{"filter":"datum.chart=='CH17-0036'"}],"mark":{"type":"line","strokeWidth":2.4},"encoding":{"detail":{"field":"group"},"color":{"condition":{"test":"datum.group=='GEM'","value":"#e8454a"},"value":"#5857b1"}}},
      {"data":{"name":"growth"},"transform":[{"filter":"datum.chart=='CH17-0036'"}],"mark":{"type":"point","filled":true,"size":32,"opacity":1},"encoding":{"fill":{"field":"group","type":"nominal","scale":{"domain":["GEM","Vehicle control"],"range":["#e8454a","#5857b1"]},"legend":{"orient":"none","legendX":19,"legendY":10,"title":null,"labelFontSize":9.5,"symbolSize":38,"symbolStrokeWidth":0,"rowPadding":6,"labelExpr":"datum.label=='Vehicle control' ? ['Vehicle','control'] : datum.label"}},"shape":{"field":"group","type":"nominal","scale":{"domain":["GEM","Vehicle control"],"range":["circle","square"]},"legend":{"orient":"none","legendX":19,"legendY":10,"title":null,"labelFontSize":9.5,"symbolSize":38,"symbolStrokeWidth":0,"rowPadding":6,"labelExpr":"datum.label=='Vehicle control' ? ['Vehicle','control'] : datum.label"}}}}
     ]},
    {"data":{"name":"annot"},"transform":[{"filter":"datum.chart=='CH17-0036'"},{"calculate":"(datum.lo+datum.hi)/2","as":"mid"}],"mark":{"type":"text","align":"left","baseline":"middle","fontSize":8.5,"color":"black"},"encoding":{"x":{"datum":29.5,"type":"quantitative","axis":{"values":[0,10,20,30],"title":"Time (days)","domainDash":[7,1.5],"titlePadding":5}},"y":{"field":"mid","type":"quantitative","axis":{"values":[0,500,1000,1500,2000],"format":"d","title":"Tumour volume (mm3)"}},"text":{"field":"label"}}}
   ]}
 ]}
],"columns":1,"spacing":20},
{"columns":2,"spacing":30,
 "resolve":{"scale":{"color":"independent","fill":"independent","shape":"independent","size":"independent"}},
 "concat":[
 {"title":{"text":"c","anchor":"start","frame":"bounds","fontSize":17,"offset":-7},
  "width":171,"height":513,
  "data":{"name":"heat"},
  "transform":[{"fold":["c0004","c0036","c0073","c0001","c0003","c0044"],"as":["sample","z"]}],
  "mark":{"type":"rect"},
  "encoding":{
   "x":{"field":"sample","type":"nominal","sort":["c0004","c0036","c0073","c0001","c0003","c0044"],"scale":{"paddingInner":0,"paddingOuter":0,"rangeMin":-44,"rangeMax":171},"axis":{"title":null,"labelAngle":-45,"labelFontSize":6,"labelFontWeight":"normal","domain":false,"ticks":false,"labelPadding":4,"labelExpr":"'CH-17-' + slice(datum.value,1)"}},
   "y":{"field":"gene","type":"nominal","sort":null,"scale":{"paddingInner":0,"paddingOuter":0,"rangeMin":13,"rangeMax":513},"axis":{"orient":"right","title":null,"labelFontSize":5.5,"labelFontWeight":"normal","domain":false,"ticks":false,"labelPadding":3,"labelColor":{"condition":{"test":"datum.value=='THBS1'","value":"#e8312a"},"value":"black"}}},
   "color":{"field":"z","type":"quantitative","scale":{"domain":[-2,0,2],"range":["#4fb3d3","#ffffff","#d73527"],"interpolate":"rgb"},"legend":{"title":null,"orient":"none","legendX":214,"legendY":251,"gradientLength":50,"gradientThickness":8,"values":[-2,-1,0,1,2],"labelExpr":"format(datum.value,'d')","labelFontSize":6.5,"direction":"vertical"}}
  }},
 {"columns":1,"spacing":2,
  "resolve":{"scale":{"color":"independent","fill":"independent","shape":"independent","size":"independent"}},
  "concat":[
  {"title":{"text":"d","anchor":"start","frame":"bounds","fontSize":17,"offset":-7,"dx":-16},
   "width":277,"height":168,
   "layer":[
    {"data":{"name":"tbl"},"transform":[{"calculate":"datum.i+1","as":"i2"}],"mark":{"type":"rect","strokeWidth":0.8},"encoding":{
      "x":{"datum":0,"type":"quantitative","scale":{"domain":[0,1,2,3,4],"range":[-147,-23,100,223,283],"nice":false,"zero":false},"axis":null},"x2":{"datum":1},
      "y":{"field":"i","type":"quantitative","scale":{"domain":[-2,0,1,10],"range":[0,23,49,168],"nice":false,"zero":false},"axis":null},"y2":{"field":"i2"},
      "fill":{"condition":{"test":"datum.group=='high'","value":"#e0331f"},"value":"#a6d655"},"stroke":{"condition":{"test":"datum.group=='high'","value":"#a3271a"},"value":"#76a236"}}},
    {"data":{"name":"tbl"},"transform":[{"calculate":"datum.i+1","as":"i2"}],"mark":{"type":"rect"},"encoding":{"x":{"datum":1,"type":"quantitative"},"x2":{"datum":4},"y":{"field":"i","type":"quantitative"},"y2":{"field":"i2"},"fill":{"condition":{"test":"datum.i%2==0","value":"#d9d9db"},"value":"#ffffff"}}},
    {"data":{"values":[{"k":1}]},"mark":{"type":"rule","color":"#a0a0a0","strokeWidth":1},"encoding":{"x":{"datum":0,"type":"quantitative"},"x2":{"datum":4},"y":{"datum":-2,"type":"quantitative"}}},
    {"data":{"values":[{"k":1}]},"mark":{"type":"rule","color":"#a0a0a0","strokeWidth":1},"encoding":{"x":{"datum":0,"type":"quantitative"},"x2":{"datum":4},"y":{"datum":0,"type":"quantitative"}}},
    {"data":{"values":[{"k":1}]},"mark":{"type":"rule","color":"#a0a0a0","strokeWidth":1},"encoding":{"x":{"datum":0,"type":"quantitative"},"x2":{"datum":4},"y":{"datum":10,"type":"quantitative"}}},
    {"data":{"name":"tbl"},"transform":[{"calculate":"indexof(datum.name,'(')>=0 ? datum.i+0.28 : datum.i+0.5","as":"ic"}],"mark":{"type":"text","align":"left","baseline":"middle","fontWeight":"bold","fontSize":9.5,"lineBreak":"\n","lineHeight":11.5,"color":"#111"},"encoding":{"x":{"datum":0.03,"type":"quantitative"},"y":{"field":"ic","type":"quantitative"},"text":{"field":"name"}}},
    {"data":{"name":"tbl"},"transform":[{"calculate":"datum.i+0.5","as":"ic"}],"mark":{"type":"text","align":"center","baseline":"middle","fontSize":8.5,"color":"#222"},"encoding":{"x":{"datum":1.5,"type":"quantitative"},"y":{"field":"ic","type":"quantitative"},"text":{"field":"sens"}}},
    {"data":{"name":"tbl"},"transform":[{"calculate":"datum.i+0.5","as":"ic"}],"mark":{"type":"text","align":"center","baseline":"middle","fontSize":8.5,"color":"#222"},"encoding":{"x":{"datum":2.5,"type":"quantitative"},"y":{"field":"ic","type":"quantitative"},"text":{"field":"res"}}},
    {"data":{"name":"tbl"},"transform":[{"calculate":"datum.i+0.5","as":"ic"}],"mark":{"type":"text","align":"center","baseline":"middle","fontSize":8.5,"color":"#222"},"encoding":{"x":{"datum":3.5,"type":"quantitative"},"y":{"field":"ic","type":"quantitative"},"text":{"field":"fold","format":".3f"}}},
    {"data":{"values":[{"k":1}]},"mark":{"type":"text","align":"left","baseline":"middle","fontWeight":"bold","fontSize":9.5,"text":"Name"},"encoding":{"x":{"datum":0.03,"type":"quantitative"},"y":{"datum":-0.95,"type":"quantitative"}}},
    {"data":{"values":[{"k":1}]},"mark":{"type":"text","align":"center","baseline":"middle","fontWeight":"bold","fontSize":7.5,"lineBreak":"\n","lineHeight":8.5,"text":"Mean expression\n(drug sensitive group n = 2)"},"encoding":{"x":{"datum":1.5,"type":"quantitative"},"y":{"datum":-1.3,"type":"quantitative"}}},
    {"data":{"values":[{"k":1}]},"mark":{"type":"text","align":"center","baseline":"middle","fontWeight":"bold","fontSize":7.5,"lineBreak":"\n","lineHeight":8.5,"text":"Mean expression\n(drug resistance group n = 2)"},"encoding":{"x":{"datum":2.5,"type":"quantitative"},"y":{"datum":-1.3,"type":"quantitative"}}},
    {"data":{"values":[{"k":1}]},"mark":{"type":"text","align":"center","baseline":"middle","fontWeight":"bold","fontSize":7.5,"text":"Fold change"},"encoding":{"x":{"datum":3.5,"type":"quantitative"},"y":{"datum":-0.95,"type":"quantitative"}}}
   ]},
  {"title":{"text":"e","anchor":"start","frame":"bounds","fontSize":17,"offset":-3},
   "width":258,"height":331,
   "view":{"stroke":"#333","strokeWidth":1},
   "data":{"name":"go"},
   "mark":{"type":"point","shape":"circle","filled":true,"opacity":1,"strokeWidth":0},
   "encoding":{
    "y":{"field":"term","type":"nominal","sort":null,"scale":{"type":"point","padding":0.6},"axis":{"title":null,"labelFontSize":8.4,"labelFontWeight":"normal","labelColor":"#444","tickColor":"#333","tickWidth":1,"tickSize":3,"domain":false,"grid":true,"gridColor":"#ebebeb","gridWidth":1.2,"labelPadding":3}},
    "x":{"field":"ratio","type":"quantitative","scale":{"domain":[0.02,0.1],"nice":false,"zero":false},"axis":{"title":"GeneRatio","values":[0.02,0.03,0.04,0.05,0.06,0.07,0.08,0.09,0.1],"labelExpr":"round(datum.value*100)%2==0 ? format(datum.value,'.2f') : ''","labelFontSize":8,"labelFontWeight":"normal","labelColor":"#444","titleFontSize":8.5,"titleFontWeight":"normal","titleColor":"#222","titlePadding":2,"domain":false,"tickColor":"#333","tickWidth":1,"tickSize":3,"grid":true,"gridColor":"#ebebeb","gridWidth":1.2}},
    "fill":{"field":"padj","type":"quantitative","scale":{"type":"linear","domain":[0,9.6e-5],"range":["#E64B35","#4DBBD5"],"interpolate":"rgb"},"legend":{"title":"p.adjust","orient":"none","legendX":264,"legendY":-4,"values":[2.5e-5,5e-5,7.5e-5],"labelExpr":"replace(format(datum.value,'.1e'),'e-','e-0')","gradientLength":47,"gradientThickness":10,"labelFontSize":6.5,"titleFontSize":7,"titleFontWeight":"normal","direction":"vertical"}},
    "size":{"field":"count","type":"quantitative","scale":{"domain":[11,43],"range":[14,85]},"legend":{"title":"Counts","orient":"none","legendX":264,"legendY":62,"values":[20,30,40],"symbolFillColor":"white","symbolStrokeColor":"black","symbolStrokeWidth":1.2,"labelFontSize":6.5,"titleFontSize":7,"titleFontWeight":"normal"}}
   }}
 ]}
 ]}
],"columns":1,"spacing":14
}
